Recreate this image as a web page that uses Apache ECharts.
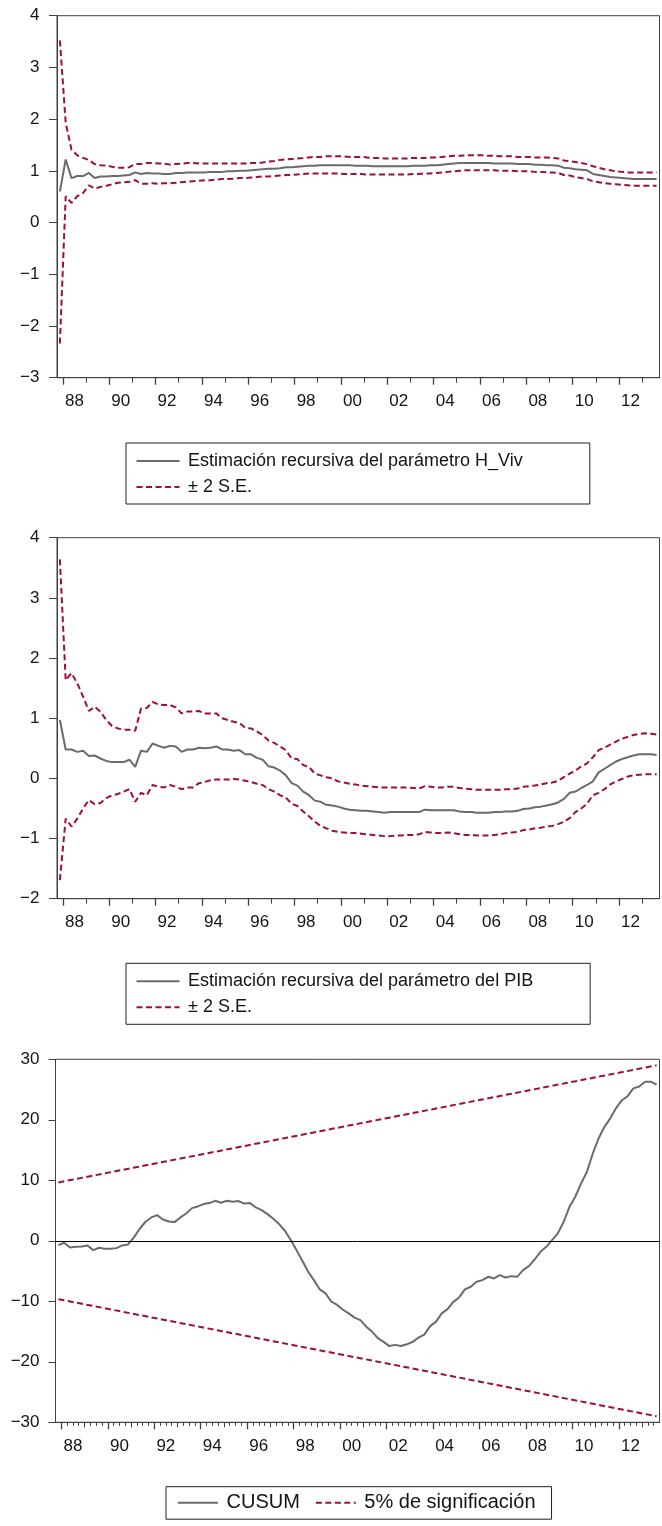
<!DOCTYPE html>
<html><head><meta charset="utf-8">
<script src="https://cdn.jsdelivr.net/npm/echarts@6/dist/echarts.min.js"></script>
<style>html,body{margin:0;padding:0;background:#fff}#c{width:662px;height:1526px}</style>
</head><body><div id="c"></div>
<script>
// ---------------- DATA ----------------
const quarters = [
'1987Q4',
'1988Q1','1988Q2','1988Q3','1988Q4','1989Q1','1989Q2','1989Q3','1989Q4',
'1990Q1','1990Q2','1990Q3','1990Q4','1991Q1','1991Q2','1991Q3','1991Q4',
'1992Q1','1992Q2','1992Q3','1992Q4','1993Q1','1993Q2','1993Q3','1993Q4',
'1994Q1','1994Q2','1994Q3','1994Q4','1995Q1','1995Q2','1995Q3','1995Q4',
'1996Q1','1996Q2','1996Q3','1996Q4','1997Q1','1997Q2','1997Q3','1997Q4',
'1998Q1','1998Q2','1998Q3','1998Q4','1999Q1','1999Q2','1999Q3','1999Q4',
'2000Q1','2000Q2','2000Q3','2000Q4','2001Q1','2001Q2','2001Q3','2001Q4',
'2002Q1','2002Q2','2002Q3','2002Q4','2003Q1','2003Q2','2003Q3','2003Q4',
'2004Q1','2004Q2','2004Q3','2004Q4','2005Q1','2005Q2','2005Q3','2005Q4',
'2006Q1','2006Q2','2006Q3','2006Q4','2007Q1','2007Q2','2007Q3','2007Q4',
'2008Q1','2008Q2','2008Q3','2008Q4','2009Q1','2009Q2','2009Q3','2009Q4',
'2010Q1','2010Q2','2010Q3','2010Q4','2011Q1','2011Q2','2011Q3','2011Q4',
'2012Q1','2012Q2','2012Q3','2012Q4','2013Q1','2013Q2','2013Q3'
];

// Panel 1: recursive estimate of H_Viv parameter
const hvivEst = [
0.60,1.22,0.86,0.90,0.90,0.96,0.86,0.89,0.89,0.90,
0.90,0.91,0.92,0.97,0.94,0.96,0.95,0.95,0.94,0.94,
0.96,0.96,0.97,0.97,0.97,0.97,0.98,0.98,0.98,0.99,
0.99,1.00,1.00,1.01,1.02,1.03,1.04,1.04,1.05,1.07,
1.07,1.08,1.09,1.10,1.10,1.11,1.11,1.11,1.11,1.11,
1.11,1.10,1.10,1.10,1.09,1.09,1.09,1.09,1.09,1.09,
1.09,1.10,1.10,1.10,1.11,1.11,1.12,1.13,1.14,1.15,
1.15,1.15,1.15,1.15,1.15,1.14,1.14,1.14,1.14,1.13,
1.13,1.13,1.12,1.12,1.11,1.11,1.10,1.06,1.05,1.03,
1.02,1.01,0.94,0.92,0.90,0.88,0.87,0.86,0.85,0.84,
0.84,0.84,0.84,0.84];
const hvivUpper = [
3.52,1.93,1.41,1.30,1.25,1.21,1.13,1.11,1.10,1.08,
1.06,1.06,1.07,1.13,1.13,1.15,1.15,1.14,1.14,1.12,
1.13,1.14,1.15,1.15,1.14,1.14,1.14,1.14,1.14,1.14,
1.14,1.14,1.14,1.15,1.15,1.16,1.18,1.19,1.21,1.22,
1.23,1.24,1.25,1.26,1.27,1.27,1.28,1.28,1.28,1.28,
1.27,1.27,1.27,1.26,1.25,1.25,1.24,1.24,1.24,1.24,
1.24,1.25,1.25,1.25,1.26,1.26,1.27,1.28,1.29,1.29,
1.30,1.30,1.30,1.30,1.29,1.29,1.28,1.28,1.28,1.27,
1.27,1.27,1.26,1.26,1.26,1.25,1.24,1.20,1.19,1.17,
1.15,1.13,1.09,1.06,1.03,1.01,0.99,0.98,0.97,0.97,
0.97,0.97,0.97,0.97];
const hvivLower = [
-2.34,0.51,0.38,0.51,0.57,0.72,0.66,0.69,0.71,0.74,
0.77,0.78,0.79,0.82,0.75,0.75,0.76,0.75,0.76,0.76,
0.77,0.78,0.79,0.80,0.81,0.82,0.82,0.83,0.84,0.84,
0.85,0.86,0.86,0.87,0.88,0.89,0.89,0.90,0.91,0.92,
0.92,0.93,0.94,0.95,0.95,0.95,0.95,0.95,0.95,0.94,
0.94,0.94,0.94,0.93,0.93,0.93,0.93,0.93,0.93,0.93,
0.93,0.94,0.94,0.95,0.95,0.96,0.97,0.98,0.99,1.00,
1.01,1.01,1.01,1.01,1.01,1.01,1.00,1.00,1.00,0.99,
0.99,0.99,0.98,0.98,0.97,0.97,0.96,0.92,0.91,0.88,
0.86,0.84,0.80,0.78,0.76,0.75,0.74,0.73,0.72,0.71,
0.71,0.71,0.71,0.71];

// Panel 2: recursive estimate of PIB parameter
const pibEst = [
0.97,0.48,0.48,0.44,0.46,0.37,0.38,0.33,0.29,0.27,
0.27,0.27,0.31,0.19,0.46,0.44,0.58,0.54,0.51,0.54,
0.53,0.44,0.48,0.48,0.51,0.50,0.51,0.53,0.48,0.48,
0.46,0.47,0.40,0.40,0.34,0.31,0.20,0.18,0.13,0.05,
-0.08,-0.12,-0.22,-0.28,-0.37,-0.39,-0.44,-0.45,-0.47,-0.50,
-0.52,-0.53,-0.54,-0.54,-0.55,-0.56,-0.57,-0.56,-0.56,-0.56,
-0.56,-0.56,-0.56,-0.52,-0.53,-0.53,-0.53,-0.53,-0.53,-0.55,
-0.56,-0.56,-0.57,-0.57,-0.57,-0.56,-0.56,-0.55,-0.55,-0.54,
-0.51,-0.50,-0.48,-0.47,-0.45,-0.43,-0.40,-0.34,-0.24,-0.22,
-0.16,-0.11,-0.05,0.10,0.16,0.22,0.28,0.32,0.35,0.38,
0.40,0.40,0.40,0.39];
const pibUpper = [
3.64,1.63,1.75,1.58,1.36,1.12,1.19,1.11,0.97,0.87,
0.83,0.81,0.81,0.79,1.16,1.17,1.27,1.23,1.22,1.22,
1.18,1.08,1.11,1.11,1.12,1.08,1.08,1.08,1.00,0.97,
0.94,0.92,0.84,0.83,0.78,0.72,0.63,0.59,0.53,0.47,
0.33,0.32,0.22,0.19,0.08,0.05,0.02,0.00,-0.05,-0.07,
-0.09,-0.10,-0.12,-0.13,-0.14,-0.15,-0.15,-0.15,-0.15,-0.15,
-0.15,-0.16,-0.17,-0.13,-0.14,-0.15,-0.15,-0.14,-0.14,-0.16,
-0.17,-0.18,-0.19,-0.19,-0.19,-0.19,-0.19,-0.18,-0.18,-0.17,
-0.14,-0.13,-0.12,-0.10,-0.08,-0.07,-0.04,0.02,0.08,0.13,
0.20,0.25,0.35,0.47,0.51,0.56,0.61,0.66,0.69,0.72,
0.74,0.75,0.74,0.73];
const pibLower = [
-1.69,-0.67,-0.80,-0.67,-0.50,-0.36,-0.43,-0.41,-0.33,-0.28,
-0.26,-0.22,-0.18,-0.39,-0.24,-0.28,-0.11,-0.14,-0.15,-0.11,
-0.14,-0.18,-0.15,-0.15,-0.08,-0.06,-0.03,-0.02,-0.02,-0.02,
-0.01,-0.02,-0.04,-0.06,-0.09,-0.11,-0.18,-0.22,-0.28,-0.32,
-0.42,-0.46,-0.55,-0.63,-0.72,-0.79,-0.83,-0.87,-0.89,-0.90,
-0.91,-0.91,-0.92,-0.93,-0.94,-0.95,-0.96,-0.96,-0.95,-0.95,
-0.94,-0.94,-0.93,-0.89,-0.90,-0.91,-0.91,-0.90,-0.91,-0.93,
-0.94,-0.94,-0.95,-0.95,-0.95,-0.94,-0.93,-0.91,-0.90,-0.89,
-0.86,-0.85,-0.83,-0.82,-0.80,-0.79,-0.76,-0.72,-0.66,-0.56,
-0.50,-0.42,-0.28,-0.24,-0.18,-0.10,-0.05,-0.01,0.03,0.05,
0.06,0.07,0.07,0.07];

// Panel 3: CUSUM and 5% significance bounds
const cusum = [
-0.71,-0.33,-1.10,-0.99,-0.93,-0.77,-1.54,-1.15,-1.32,-1.32,
-1.21,-0.77,-0.60,0.56,1.99,3.15,3.86,4.25,3.53,3.20,
3.09,3.86,4.52,5.40,5.68,6.07,6.23,6.61,6.29,6.61,
6.45,6.56,6.17,6.23,5.51,5.07,4.41,3.64,2.76,1.66,
0.12,-1.54,-3.30,-5.12,-6.50,-8.04,-8.70,-10.07,-10.6,-11.4,
-12.0,-12.7,-13.1,-14.2,-15.0,-16.1,-16.7,-17.4,-17.2,-17.4,
-17.1,-16.7,-16.0,-15.5,-14.1,-13.4,-12.0,-11.3,-10.1,-9.36,
-8.04,-7.60,-6.77,-6.50,-5.95,-6.22,-5.67,-6.06,-5.84,-5.95,
-4.85,-4.19,-3.09,-1.82,-0.99,0.12,1.22,3.15,5.62,7.28,
9.48,11.4,14.4,16.9,18.8,20.2,21.9,23.2,23.9,25.2,
25.5,26.3,26.3,25.8];
const boundQuarters = ['1987Q4','2013Q3'];
const boundUpper = [9.65, 29.0];
const boundLower = [-9.65, -29.0];

// Axis ticks / labels
const yearTicks = [1988,1989,1990,1991,1992,1993,1994,1995,1996,1997,1998,1999,2000,
  2001,2002,2003,2004,2005,2006,2007,2008,2009,2010,2011,2012,2013];
const labelYears = [1988,1990,1992,1994,1996,1998,2000,2002,2004,2006,2008,2010,2012];

const legendNames = {
  est1: 'Estimación recursiva del parámetro H_Viv',
  est2: 'Estimación recursiva del parámetro del PIB',
  se: '± 2 S.E.',
  cusum: 'CUSUM',
  sig: '5% de significación'
};

// ---------------- CHART ----------------
const F = '"Liberation Sans", Arial, Helvetica, sans-serif';
const GRAY = '#6b6b6b', RED = '#9e0c40', AX = '#404040', TXT = '#141414';
const X0 = 1987.75, X1 = 2013.75;
const qx = q => +q.slice(0,4) + (+q.slice(5) - 1) / 4 + 0.125;
const pts = (qs, arr) => arr.map((v, i) => [qx(qs[i]), v]);

const evenYears = yearTicks.filter(y => y % 2 === 0);
const oddYears = yearTicks.filter(y => y % 2 === 1);
const labelPos = labelYears.map(y => y + 0.5);
const quarterTicks = [];
yearTicks.forEach(y => [0.25, 0.5, 0.75].forEach(f => { if (y + f < X1) quarterTicks.push(y + f); }));

const panels = [
  {top: 15.7, height: 362, left: 57, ymin: -3, ymax: 4, step: 1, tick: 8},
  {top: 537.7, height: 361, left: 57, ymin: -2, ymax: 4, step: 1, tick: 8},
  {top: 1059.3, height: 363, left: 55.5, ymin: -30, ymax: 30, step: 10, tick: 7}
];
const RIGHT = 659.5;

const grid = [], xAxis = [], yAxis = [];
const fmtY = v => v < 0 ? '\u2212' + Math.abs(v) : String(v);

function addGrid(p, main) {
  grid.push({left: p.left, top: p.top, width: RIGHT - p.left, height: p.height,
    show: main, borderColor: AX, borderWidth: 1, backgroundColor: 'transparent'});
  return grid.length - 1;
}

panels.forEach((p, k) => {
  const g = addGrid(p, true);
  xAxis.push({type: 'value', gridIndex: g, min: X0, max: X1,
    axisLine: {show: true, onZero: false, lineStyle: {color: AX, width: 1}},
    axisTick: {show: true, length: 7, customValues: evenYears, lineStyle: {color: AX, width: 1.3}},
    axisLabel: {show: true, customValues: labelPos, margin: 15.5, fontSize: 17, color: TXT, fontFamily: F,
      formatter: v => String(Math.floor(v)).slice(2)},
    splitLine: {show: false}});
  yAxis.push({type: 'value', gridIndex: g, min: p.ymin, max: p.ymax, interval: p.step,
    axisLine: {show: true, onZero: false, lineStyle: {color: AX, width: 1}},
    axisTick: {show: true, length: p.tick, lineStyle: {color: AX, width: 1}},
    axisLabel: {margin: k === 2 ? 16 : 17.5, fontSize: 17, color: TXT, fontFamily: F, formatter: fmtY},
    splitLine: {show: false}});
});
// overlay grids for odd-year ticks and quarterly ticks
panels.forEach((p, k) => {
  const g = addGrid(p, false);
  xAxis.push({type: 'value', gridIndex: g, min: X0, max: X1, position: 'bottom',
    axisLine: {show: false, onZero: false}, axisLabel: {show: false}, splitLine: {show: false},
    axisTick: {show: true, length: 5, customValues: oddYears, lineStyle: {color: AX, width: 1}}});
  yAxis.push({type: 'value', gridIndex: g, min: p.ymin, max: p.ymax, show: false});
});
{
  const g = addGrid(panels[2], false);
  xAxis.push({type: 'value', gridIndex: g, min: X0, max: X1, position: 'bottom',
    axisLine: {show: false, onZero: false}, axisLabel: {show: false}, splitLine: {show: false},
    axisTick: {show: true, length: 3.5, customValues: quarterTicks, lineStyle: {color: AX, width: 1}}});
  yAxis.push({type: 'value', gridIndex: g, min: -30, max: 30, show: false});
}

const solid = {color: GRAY, width: 2};
const dashed = {color: RED, width: 2, type: [6, 3.5]};
function line(name, idx, data, ls, extra) {
  return Object.assign({name, type: 'line', xAxisIndex: idx, yAxisIndex: idx, data,
    symbol: 'none', showSymbol: false, silent: true, animation: false,
    lineStyle: ls, itemStyle: {color: ls.color}}, extra || {});
}

const series = [
  line(legendNames.est1, 0, pts(quarters, hvivEst), solid, {z: 3}),
  line(legendNames.se, 0, pts(quarters, hvivUpper), dashed),
  line(legendNames.se, 0, pts(quarters, hvivLower), dashed),
  line(legendNames.est2, 1, pts(quarters, pibEst), solid, {z: 3}),
  line(legendNames.se, 1, pts(quarters, pibUpper), dashed),
  line(legendNames.se, 1, pts(quarters, pibLower), dashed),
  line(legendNames.cusum, 2, pts(quarters, cusum), solid, {z: 3,
    markLine: {silent: true, symbol: 'none', label: {show: false}, animation: false,
      lineStyle: {color: '#000', width: 1, type: 'solid'}, data: [{yAxis: 0}]}}),
  line(legendNames.sig, 2, pts(boundQuarters, boundUpper), dashed),
  line(legendNames.sig, 2, pts(boundQuarters, boundLower), dashed)
];

const legTxt = (fs) => ({fontSize: fs, color: TXT, fontFamily: F, lineHeight: fs, padding: [0, 0, 0, 3.5]});
const legCommon = {borderColor: '#222', borderWidth: 1, selectedMode: false, itemStyle: {opacity: 0}};
const legend = [
  Object.assign({orient: 'vertical', left: 126, top: 443, padding: [9, 67, 8, 9.5], itemWidth: 43, itemHeight: 14, itemGap: 8,
   data: [legendNames.est1, legendNames.se], textStyle: legTxt(18)}, legCommon),
  Object.assign({orient: 'vertical', left: 126, top: 963.3, padding: [9, 57, 8, 9.5], itemWidth: 43, itemHeight: 14, itemGap: 8,
   data: [legendNames.est2, legendNames.se], textStyle: legTxt(18)}, legCommon),
  Object.assign({orient: 'horizontal', left: 166, top: 1486.7, padding: [6, 16, 6.5, 11], itemWidth: 40, itemHeight: 14, itemGap: 15,
   data: [legendNames.cusum, legendNames.sig], textStyle: legTxt(20)}, legCommon)
];

const chart = echarts.init(document.getElementById('c'), null, {renderer: 'canvas'});
chart.setOption({backgroundColor: '#fff', animation: false, grid, xAxis, yAxis, series, legend});
</script></body></html>
